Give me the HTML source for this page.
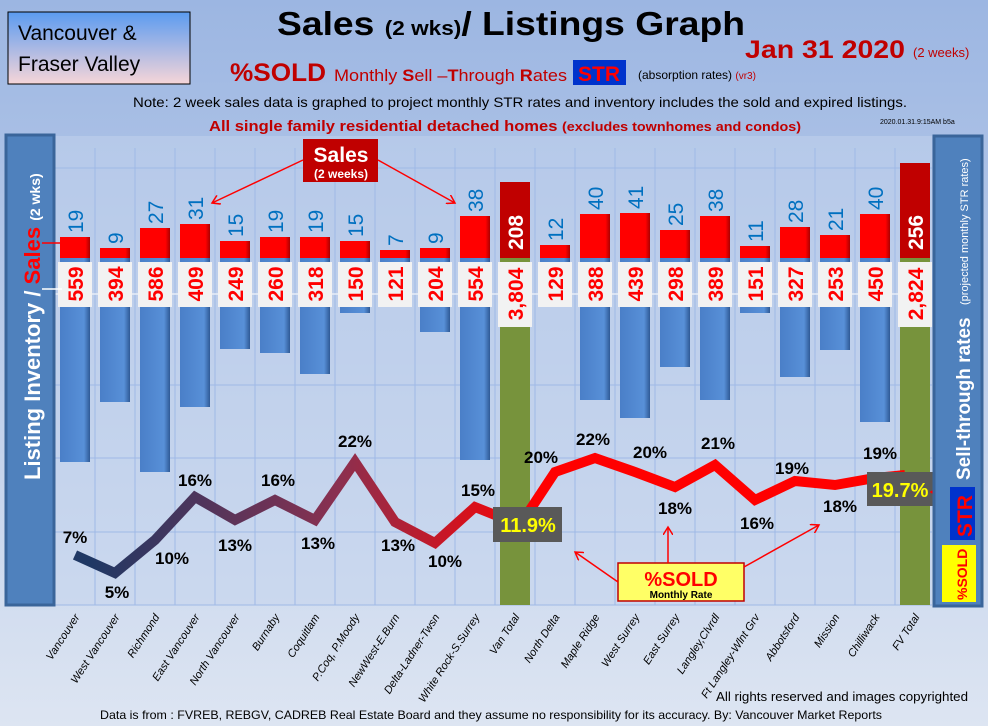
<!DOCTYPE html>
<html><head><meta charset="utf-8"><style>
html,body{margin:0;padding:0;width:988px;height:726px;overflow:hidden;background:#b4c7e7}
svg{display:block;font-family:"Liberation Sans",sans-serif}
</style></head><body>
<svg width="988" height="726" viewBox="0 0 988 726" xmlns="http://www.w3.org/2000/svg">
<defs>
<linearGradient id="bg" x1="0" y1="0" x2="0" y2="1"><stop offset="0" stop-color="#9cb6e2"/><stop offset="1" stop-color="#dde5f2"/></linearGradient>
<linearGradient id="hb" x1="0" y1="0" x2="0" y2="1"><stop offset="0" stop-color="#5b9bf0"/><stop offset="1" stop-color="#f6d5d8"/></linearGradient>
<linearGradient id="ln" gradientUnits="userSpaceOnUse" x1="90" y1="0" x2="540" y2="0"><stop offset="0" stop-color="#1f3864"/><stop offset="0.55" stop-color="#8a3050"/><stop offset="1" stop-color="#ff0000"/></linearGradient>
<linearGradient id="bl" x1="0" y1="0" x2="1" y2="0"><stop offset="0" stop-color="#4a7fc8"/><stop offset="0.8" stop-color="#5890d8"/><stop offset="1" stop-color="#2f5a96"/></linearGradient>
<linearGradient id="rd" x1="0" y1="0" x2="1" y2="0"><stop offset="0" stop-color="#f00"/><stop offset="0.85" stop-color="#f00"/><stop offset="1" stop-color="#a00"/></linearGradient>
<marker id="ar" markerWidth="10" markerHeight="10" refX="8" refY="5" orient="auto" markerUnits="userSpaceOnUse"><path d="M0,0 L8,5 L0,10" fill="none" stroke="#f00" stroke-width="1.5"/></marker>
</defs>
<rect width="988" height="726" fill="url(#bg)"/>
<rect x="8" y="12" width="182" height="72" fill="url(#hb)" stroke="#000" stroke-width="1"/>
<text x="18" y="40" font-size="21">Vancouver &amp;</text>
<text x="18" y="71" font-size="21">Fraser Valley</text>
<text x="277" y="35" font-size="33" font-weight="bold" textLength="468" lengthAdjust="spacingAndGlyphs">Sales <tspan font-size="20">(2 wks)</tspan>/ Listings Graph</text>
<text x="745" y="58" font-size="25" font-weight="bold" fill="#c00000" textLength="160" lengthAdjust="spacingAndGlyphs">Jan 31 2020</text>
<text x="913" y="57" font-size="13" fill="#c00000">(2 weeks)</text>
<text x="230" y="81" font-size="25" font-weight="bold" fill="#c00000" textLength="96" lengthAdjust="spacingAndGlyphs">%SOLD</text>
<text x="334" y="81" font-size="17" fill="#c00000" textLength="233" lengthAdjust="spacingAndGlyphs">Monthly <tspan font-weight="bold">S</tspan>ell –<tspan font-weight="bold">T</tspan>hrough <tspan font-weight="bold">R</tspan>ates</text>
<rect x="573" y="60" width="53" height="25" fill="#0033cc"/>
<text x="599" y="81" font-size="21" font-weight="bold" fill="#f00" text-anchor="middle">STR</text>
<text x="638" y="79" font-size="12">(absorption rates) <tspan fill="#c00000" font-size="10">(vr3)</tspan></text>
<text x="520" y="107" font-size="14" text-anchor="middle" textLength="774" lengthAdjust="spacingAndGlyphs">Note: 2 week sales data is graphed to project monthly STR rates and inventory includes the sold and expired listings.</text>
<text x="505" y="131" font-size="15" font-weight="bold" fill="#c00000" text-anchor="middle" textLength="592" lengthAdjust="spacingAndGlyphs">All single family residential detached homes <tspan font-size="13">(excludes townhomes and condos)</tspan></text>
<text x="880" y="124" font-size="7">2020.01.31.9:15AM b5a</text>
<rect x="55" y="136" width="877" height="469" fill="#c3d3ee" opacity="0.5"/>
<g stroke="#9fb9e6" stroke-width="1">
<line x1="95" y1="148" x2="95" y2="605"/><line x1="135" y1="148" x2="135" y2="605"/><line x1="175" y1="148" x2="175" y2="605"/><line x1="215" y1="148" x2="215" y2="605"/><line x1="255" y1="148" x2="255" y2="605"/><line x1="295" y1="148" x2="295" y2="605"/><line x1="335" y1="148" x2="335" y2="605"/><line x1="375" y1="148" x2="375" y2="605"/><line x1="415" y1="148" x2="415" y2="605"/><line x1="455" y1="148" x2="455" y2="605"/><line x1="495" y1="148" x2="495" y2="605"/><line x1="535" y1="148" x2="535" y2="605"/><line x1="575" y1="148" x2="575" y2="605"/><line x1="615" y1="148" x2="615" y2="605"/><line x1="655" y1="148" x2="655" y2="605"/><line x1="695" y1="148" x2="695" y2="605"/><line x1="735" y1="148" x2="735" y2="605"/><line x1="775" y1="148" x2="775" y2="605"/><line x1="815" y1="148" x2="815" y2="605"/><line x1="855" y1="148" x2="855" y2="605"/><line x1="895" y1="148" x2="895" y2="605"/>
<line x1="55" y1="168" x2="932" y2="168"/><line x1="55" y1="385" x2="932" y2="385"/><line x1="55" y1="458" x2="932" y2="458"/><line x1="55" y1="532" x2="932" y2="532"/><line x1="55" y1="605" x2="932" y2="605"/>
</g>
<line x1="55" y1="294" x2="932" y2="294" stroke="#e8eef8" stroke-width="1.5"/>
<g fill="url(#bl)">
<rect x="60" y="258" width="30" height="204"/><rect x="100" y="258" width="30" height="144"/><rect x="140" y="258" width="30" height="214"/><rect x="180" y="258" width="30" height="149"/><rect x="220" y="258" width="30" height="91"/><rect x="260" y="258" width="30" height="95"/><rect x="300" y="258" width="30" height="116"/><rect x="340" y="258" width="30" height="55"/><rect x="380" y="258" width="30" height="44"/><rect x="420" y="258" width="30" height="74"/><rect x="460" y="258" width="30" height="202"/>
<rect x="540" y="258" width="30" height="47"/><rect x="580" y="258" width="30" height="142"/><rect x="620" y="258" width="30" height="160"/><rect x="660" y="258" width="30" height="109"/><rect x="700" y="258" width="30" height="142"/><rect x="740" y="258" width="30" height="55"/><rect x="780" y="258" width="30" height="119"/><rect x="820" y="258" width="30" height="92"/><rect x="860" y="258" width="30" height="164"/>
</g>
<rect x="500" y="258" width="30" height="347" fill="#77933c"/>
<rect x="900" y="258" width="30" height="347" fill="#77933c"/>
<g fill="url(#rd)">
<rect x="60" y="237" width="30" height="21"/><rect x="100" y="248" width="30" height="10"/><rect x="140" y="228" width="30" height="30"/><rect x="180" y="224" width="30" height="34"/><rect x="220" y="241" width="30" height="17"/><rect x="260" y="237" width="30" height="21"/><rect x="300" y="237" width="30" height="21"/><rect x="340" y="241" width="30" height="17"/><rect x="380" y="250" width="30" height="8"/><rect x="420" y="248" width="30" height="10"/><rect x="460" y="216" width="30" height="42"/>
<rect x="540" y="245" width="30" height="13"/><rect x="580" y="214" width="30" height="44"/><rect x="620" y="213" width="30" height="45"/><rect x="660" y="230" width="30" height="28"/><rect x="700" y="216" width="30" height="42"/><rect x="740" y="246" width="30" height="12"/><rect x="780" y="227" width="30" height="31"/><rect x="820" y="235" width="30" height="23"/><rect x="860" y="214" width="30" height="44"/>
</g>
<rect x="500" y="182" width="30" height="76" fill="#c00000"/>
<rect x="900" y="163" width="30" height="95" fill="#c00000"/>
<g font-size="21" fill="#0070c0">
<text transform="translate(83,233) rotate(-90)">19</text><text transform="translate(123,244) rotate(-90)">9</text><text transform="translate(163,224) rotate(-90)">27</text><text transform="translate(203,220) rotate(-90)">31</text><text transform="translate(243,237) rotate(-90)">15</text><text transform="translate(283,233) rotate(-90)">19</text><text transform="translate(323,233) rotate(-90)">19</text><text transform="translate(363,237) rotate(-90)">15</text><text transform="translate(403,246) rotate(-90)">7</text><text transform="translate(443,244) rotate(-90)">9</text><text transform="translate(483,212) rotate(-90)">38</text>
<text transform="translate(563,241) rotate(-90)">12</text><text transform="translate(603,210) rotate(-90)">40</text><text transform="translate(643,209) rotate(-90)">41</text><text transform="translate(683,226) rotate(-90)">25</text><text transform="translate(723,212) rotate(-90)">38</text><text transform="translate(763,242) rotate(-90)">11</text><text transform="translate(803,223) rotate(-90)">28</text><text transform="translate(843,231) rotate(-90)">21</text><text transform="translate(883,210) rotate(-90)">40</text>
</g>
<g font-size="21" font-weight="bold" fill="#fff">
<text transform="translate(523,250) rotate(-90)">208</text><text transform="translate(923,250) rotate(-90)">256</text>
</g>
<g fill="#f2f2f2">
<rect x="58" y="262" width="34" height="45"/><rect x="98" y="262" width="34" height="45"/><rect x="138" y="262" width="34" height="45"/><rect x="178" y="262" width="34" height="45"/><rect x="218" y="262" width="34" height="45"/><rect x="258" y="262" width="34" height="45"/><rect x="298" y="262" width="34" height="45"/><rect x="338" y="262" width="34" height="45"/><rect x="378" y="262" width="34" height="45"/><rect x="418" y="262" width="34" height="45"/><rect x="458" y="262" width="34" height="45"/><rect x="498" y="262" width="34" height="65"/>
<rect x="538" y="262" width="34" height="45"/><rect x="578" y="262" width="34" height="45"/><rect x="618" y="262" width="34" height="45"/><rect x="658" y="262" width="34" height="45"/><rect x="698" y="262" width="34" height="45"/><rect x="738" y="262" width="34" height="45"/><rect x="778" y="262" width="34" height="45"/><rect x="818" y="262" width="34" height="45"/><rect x="858" y="262" width="34" height="45"/><rect x="898" y="262" width="34" height="65"/>
</g>
<g font-size="21" font-weight="bold" fill="#f00" text-anchor="middle">
<text transform="translate(83,284) rotate(-90)">559</text><text transform="translate(123,284) rotate(-90)">394</text><text transform="translate(163,284) rotate(-90)">586</text><text transform="translate(203,284) rotate(-90)">409</text><text transform="translate(243,284) rotate(-90)">249</text><text transform="translate(283,284) rotate(-90)">260</text><text transform="translate(323,284) rotate(-90)">318</text><text transform="translate(363,284) rotate(-90)">150</text><text transform="translate(403,284) rotate(-90)">121</text><text transform="translate(443,284) rotate(-90)">204</text><text transform="translate(483,284) rotate(-90)">554</text><text transform="translate(523,294) rotate(-90)">3,804</text>
<text transform="translate(563,284) rotate(-90)">129</text><text transform="translate(603,284) rotate(-90)">388</text><text transform="translate(643,284) rotate(-90)">439</text><text transform="translate(683,284) rotate(-90)">298</text><text transform="translate(723,284) rotate(-90)">389</text><text transform="translate(763,284) rotate(-90)">151</text><text transform="translate(803,284) rotate(-90)">327</text><text transform="translate(843,284) rotate(-90)">253</text><text transform="translate(883,284) rotate(-90)">450</text><text transform="translate(923,294) rotate(-90)">2,824</text>
</g>
<polyline points="75,555 115,573 155,540 195,497 235,520 275,500 315,520 355,462 395,522 435,543 475,507 520,525 555,472 595,458 635,472 675,487 715,465 755,500 795,481 835,485 875,478 905,475" fill="none" stroke="url(#ln)" stroke-width="10" stroke-linejoin="miter"/>
<g font-size="17" font-weight="bold" fill="#000" text-anchor="middle">
<text x="75" y="543">7%</text><text x="117" y="598">5%</text><text x="172" y="564">10%</text><text x="195" y="486">16%</text><text x="235" y="551">13%</text><text x="278" y="486">16%</text><text x="318" y="549">13%</text><text x="355" y="447">22%</text><text x="398" y="551">13%</text><text x="445" y="567">10%</text><text x="478" y="496">15%</text>
<text x="541" y="463">20%</text><text x="593" y="445">22%</text><text x="650" y="458">20%</text><text x="675" y="514">18%</text><text x="718" y="449">21%</text><text x="757" y="529">16%</text><text x="792" y="474">19%</text><text x="840" y="512">18%</text><text x="880" y="459">19%</text>
</g>
<rect x="493" y="507" width="69" height="35" fill="#595959"/>
<text x="528" y="532" font-size="20" font-weight="bold" fill="#ff0" text-anchor="middle">11.9%</text>
<rect x="867" y="472" width="67" height="34" fill="#595959"/>
<text x="900" y="497" font-size="20" font-weight="bold" fill="#ff0" text-anchor="middle">19.7%</text>
<rect x="618" y="563" width="126" height="38" fill="#ffff66" stroke="#c00000" stroke-width="1.5"/>
<text x="681" y="586" font-size="20" font-weight="bold" fill="#f00" text-anchor="middle">%SOLD</text>
<text x="681" y="598" font-size="10" font-weight="bold" text-anchor="middle">Monthly Rate</text>
<g stroke="#f00" stroke-width="1.5" fill="none">
<line x1="618" y1="582" x2="575" y2="552" marker-end="url(#ar)"/>
<line x1="668" y1="563" x2="668" y2="527" marker-end="url(#ar)"/>
<line x1="744" y1="567" x2="819" y2="525" marker-end="url(#ar)"/>
<line x1="958" y1="492" x2="931" y2="492" marker-end="url(#ar)"/>
</g>
<rect x="303" y="139" width="75" height="43" fill="#c00000"/>
<text x="341" y="162" font-size="21" font-weight="bold" fill="#fff" text-anchor="middle">Sales</text>
<text x="341" y="178" font-size="12" font-weight="bold" fill="#fff" text-anchor="middle">(2 weeks)</text>
<g stroke="#f00" stroke-width="1.5" fill="none">
<line x1="303" y1="160" x2="212" y2="203" marker-end="url(#ar)"/>
<line x1="378" y1="160" x2="455" y2="203" marker-end="url(#ar)"/>
</g>
<rect x="6" y="135" width="48" height="470" fill="#4f81bd" stroke="#3a659a" stroke-width="3"/>
<text transform="translate(40,480) rotate(-90)" font-size="22" font-weight="bold" fill="#fff">Listing Inventory / <tspan fill="#f00">Sales</tspan> <tspan font-size="14">(2 wks)</tspan></text>
<line x1="42" y1="243" x2="66" y2="243" stroke="#f00" stroke-width="1.5"/>
<line x1="42" y1="289" x2="62" y2="289" stroke="#fff" stroke-width="1.5"/>
<rect x="934" y="136" width="48" height="470" fill="#4f81bd" stroke="#3a659a" stroke-width="3"/>
<text transform="translate(970,480) rotate(-90)" font-size="19" font-weight="bold" fill="#fff">Sell-through rates</text>
<text transform="translate(968,305) rotate(-90)" font-size="11" fill="#fff">(projected monthly STR rates)</text>
<rect x="950" y="487" width="25" height="53" fill="#0033cc"/>
<text transform="translate(972,537) rotate(-90)" font-size="21" font-weight="bold" fill="#f00">STR</text>
<rect x="942" y="545" width="34" height="57" fill="#ff0"/>
<text transform="translate(967,600) rotate(-90)" font-size="14" font-weight="bold" fill="#f00">%SOLD</text>
<g font-size="11" font-style="italic" text-anchor="end">
<text transform="translate(80,617) rotate(-57)">Vancouver</text><text transform="translate(120,617) rotate(-57)">West Vancouver</text><text transform="translate(160,617) rotate(-57)">Richmond</text><text transform="translate(200,617) rotate(-57)">East Vancouver</text><text transform="translate(240,617) rotate(-57)">North Vancouver</text><text transform="translate(280,617) rotate(-57)">Burnaby</text><text transform="translate(320,617) rotate(-57)">Coquitlam</text><text transform="translate(360,617) rotate(-57)">P.Coq, P.Moody</text><text transform="translate(400,617) rotate(-57)">NewWest-E.Burn</text><text transform="translate(440,617) rotate(-57)">Delta-Ladner-Twsn</text><text transform="translate(480,617) rotate(-57)">White Rock-S.Surrey</text><text transform="translate(520,617) rotate(-57)">Van Total</text>
<text transform="translate(560,617) rotate(-57)">North Delta</text><text transform="translate(600,617) rotate(-57)">Maple Ridge</text><text transform="translate(640,617) rotate(-57)">West Surrey</text><text transform="translate(680,617) rotate(-57)">East Surrey</text><text transform="translate(720,617) rotate(-57)">Langley,Clvrdl</text><text transform="translate(760,617) rotate(-57)">Ft Langley-Wlnt Grv</text><text transform="translate(800,617) rotate(-57)">Abbotsford</text><text transform="translate(840,617) rotate(-57)">Mission</text><text transform="translate(880,617) rotate(-57)">Chilliwack</text><text transform="translate(920,617) rotate(-57)">FV Total</text>
</g>
<text x="968" y="701" font-size="12.5" text-anchor="end" textLength="252" lengthAdjust="spacingAndGlyphs">All rights reserved and  images copyrighted</text>
<text x="491" y="719" font-size="12" text-anchor="middle" textLength="782" lengthAdjust="spacingAndGlyphs">Data is from : FVREB, REBGV, CADREB Real Estate Board and they assume no responsibility for its accuracy. By: Vancouver Market Reports</text>
</svg>
</body></html>
